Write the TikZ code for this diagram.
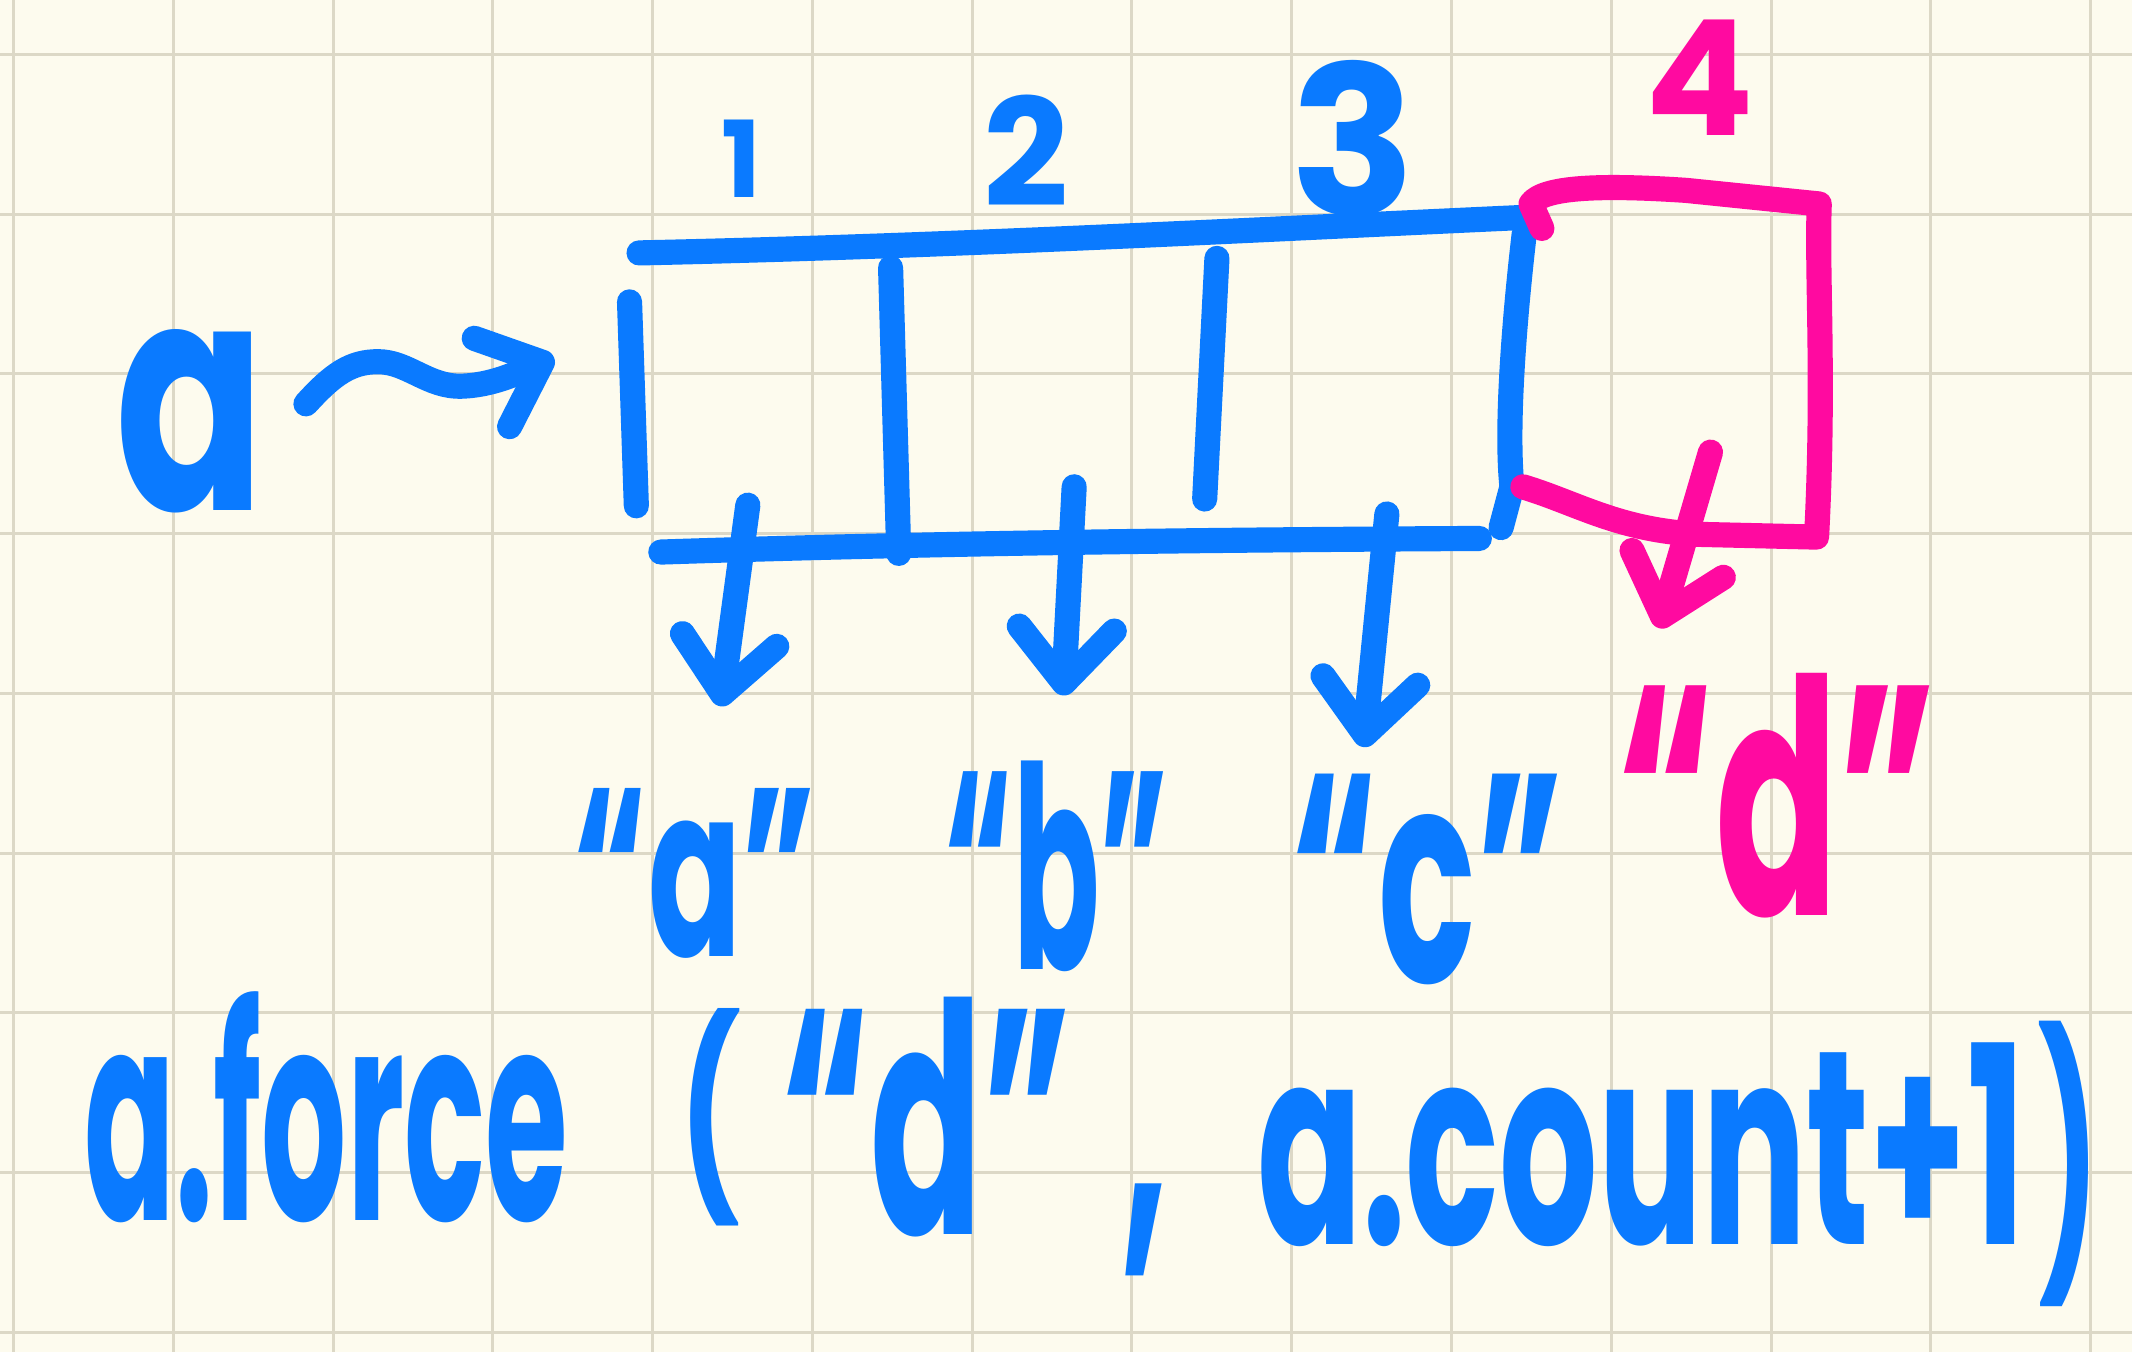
\documentclass[tikz,border=0pt]{standalone}
\usepackage{fontspec}
\setmainfont{Poppins}
\usetikzlibrary{arrows.meta,calc}
\definecolor{paper}{RGB}{253,251,238}
\definecolor{gridc}{RGB}{220,216,198}
\definecolor{inkblue}{RGB}{10,122,255}
\definecolor{inkpink}{RGB}{255,10,160}
\newcommand\fitbox[3]{\resizebox*{#1}{#2}{#3}}
\begin{document}
\begin{tikzpicture}[x=0.1mm,y=-0.1mm,
  hw/.style={line width=1.85mm,line cap=round,line join=round},
  blu/.style={hw,draw=inkblue},
  pnk/.style={hw,draw=inkpink},
  harr/.style={-{Straight Barb[length=4mm,width=7mm,round]}},
  txt/.style={inner sep=0.4mm,outer sep=0pt,font=\bfseries,text=inkblue},
  ptxt/.style={txt,text=inkpink},
  cellbox/.style={inner sep=0pt,outer sep=0pt,draw=none},
  gridline/.style={draw=gridc,line width=0.22mm}]
% paper and grid
\fill[paper] (0,0) rectangle (1568,994);
\useasboundingbox (0,0) rectangle (1568,994);
\foreach \i in {0,...,13} \draw[gridline] ({10+117.5*\i},0) -- ({10+117.5*\i},994);
\foreach \j in {0,...,8} \draw[gridline] (0,{40+117.5*\j}) -- (1568,{40+117.5*\j});

% invisible cell nodes (anchors for the connectors)
\node[cellbox,minimum width=19.3mm,minimum height=21.9mm] (c1) at (561,295) {};
\node[cellbox,minimum width=23.2mm,minimum height=21.8mm] (c2) at (774,293) {};
\node[cellbox,minimum width=22.6mm,minimum height=22.8mm] (c3) at (1003,284) {};
\node[cellbox,minimum width=22.0mm,minimum height=25.5mm] (c4) at (1232,268) {};

% blue array
\draw[blu] (470,186) .. controls (700,181) and (900,170) .. (1118,160);
\draw[blu] (463,222) -- (468,372);
\draw[blu] (655,197) -- (661,407);
\draw[blu] (895,190) -- (886,367);
\draw[blu] (1121,172) .. controls (1112,250) and (1108,320) .. (1112,358) -- (1104,388);
\draw[blu] (486,406) .. controls (700,399) and (900,397) .. (1088,396);

% pink extra cell
\draw[pnk] (1134,168) -- (1126,150) .. controls (1135,137) and (1180,136) .. (1240,140) -- (1338,150)
  .. controls (1336,200) and (1342,280) .. (1336,395) -- (1250,393)
  .. controls (1190,390) and (1160,370) .. (1120,358);

% texts
\node[txt] (avar) at (140,310) {\fitbox{11mm}{13.5mm}{a}};
\node[txt] (n1) at (545,117) {\fitbox{!}{5.7mm}{1}};
\node[txt] (n2) at (755,111) {\fitbox{!}{8.2mm}{2}};
\node[txt] (n3) at (995,102) {\fitbox{!}{11.5mm}{3}};
\node[ptxt] (n4) at (1250,57) {\fitbox{!}{8.5mm}{4}};

\node[txt] (la) at (511,642) {\fitbox{17.8mm}{12.5mm}{“a”}};
\node[txt] (lb) at (777,637) {\fitbox{16.5mm}{15.5mm}{“b”}};
\node[txt] (lc) at (1050,647) {\fitbox{20mm}{15.5mm}{“c”}};
\node[ptxt] (ld) at (1307,585) {\fitbox{23.5mm}{18mm}{“d”}};

\node[txt] (t1) at (240,814) {\fitbox{35.5mm}{17mm}{a.force}};
\node[txt] (t2) at (522,822) {\fitbox{4.5mm}{16mm}{(}};
\node[txt] (t3) at (717,836) {\fitbox{28.5mm}{20.5mm}{“d”\hspace{0.3em},}};
\node[txt] (t5) at (1207,842) {\fitbox{56.5mm}{15mm}{a.count+1}};
\node[txt] (t6) at (1522,856) {\fitbox{4.5mm}{21mm}{)}};

% connectors
\draw[blu,harr] ($(avar.east)+(26,-13)$) .. controls (245,275) and (258,266) .. (278,266)
  .. controls (300,266) and (315,285) .. (340,284)
  .. controls (365,283) and (385,272) .. ($(c1.west)+(-57,-32)$);
\draw[blu,harr] ($(c1.south)+(-11,-33)$) -- ($(la.north)+(19,-56)$);
\draw[blu,harr] ($(c2.south)+(16,-44)$) -- ($(lb.north)+(5,-44)$);
\draw[blu,harr] ($(c3.south)+(17,-20)$) -- ($(lc.north)+(-47,-16)$);
\draw[pnk,harr] ($(c4.south)+(26,-63)$) -- ($(ld.north)+(-87,-29)$);
\end{tikzpicture}
\end{document}
